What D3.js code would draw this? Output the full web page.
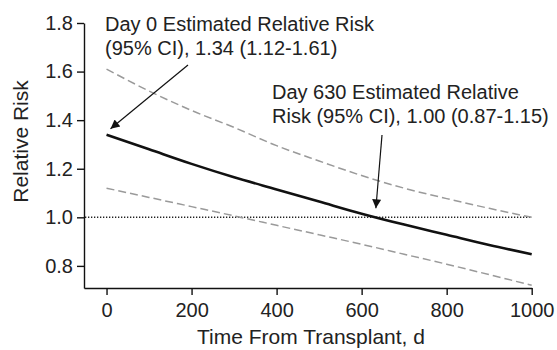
<!DOCTYPE html>
<html>
<head>
<meta charset="utf-8">
<script src="https://cdn.jsdelivr.net/npm/d3@7/dist/d3.min.js"></script>
<style>
	body { margin: 0; background: #fff; }
	svg { display: block; font-family: "Liberation Sans", Arial, Helvetica, sans-serif; }
</style>
</head>
<body>
<svg width="557" height="350"></svg>
<script>
// days after transplant
var days = [0, 100, 200, 300, 400, 500, 600, 700, 800, 900, 1000];
// estimated relative risk and 95% CI
var rrEstimate = [1.34, 1.28, 1.22, 1.165, 1.115, 1.065, 1.015, 0.97, 0.928, 0.886, 0.848];
var rrUpper = [1.61, 1.52, 1.44, 1.37, 1.295, 1.232, 1.172, 1.12, 1.077, 1.037, 1.0];
var rrLower = [1.12, 1.082, 1.044, 1.006, 0.967, 0.928, 0.889, 0.848, 0.807, 0.764, 0.72];

var xTicks = [0, 200, 400, 600, 800, 1000];
var yTicks = [0.8, 1.0, 1.2, 1.4, 1.6, 1.8];
var referenceRR = 1.0;

var noteDay0 = ["Day 0 Estimated Relative Risk", "(95% CI), 1.34 (1.12-1.61)"];
var noteDay630 = ["Day 630 Estimated Relative", "Risk (95% CI), 1.00 (0.87-1.15)"];
var noteTargets = [[0, 1.34], [630, 1.0]];

var svg = d3.select("svg");

var x = d3.scaleLinear().domain([-53, 1000]).range([84, 531.7]);
var y = d3.scaleLinear().domain([0.709, 1.8]).range([288, 23]);

// axes
var yAxis = svg.append("g")
	.attr("transform", "translate(84,0)")
	.call(d3.axisLeft(y).tickValues(yTicks).tickSize(7).tickSizeOuter(0).tickPadding(4)
		.tickFormat(d3.format(".1f")));

var xAxis = svg.append("g")
	.attr("transform", "translate(0,288)")
	.call(d3.axisBottom(x).tickValues(xTicks).tickSize(7).tickSizeOuter(0).tickPadding(8)
		.tickFormat(d3.format("d")));

[xAxis, yAxis].forEach(g => {
	g.selectAll("path, line").attr("stroke", "#111").attr("stroke-width", 1.4);
	g.selectAll("text").attr("font-size", 20).attr("fill", "#222")
		.attr("font-family", "Liberation Sans, Arial, sans-serif");
});

svg.append("text")
	.attr("x", 311)
	.attr("y", 344)
	.attr("text-anchor", "middle")
	.attr("font-size", 21)
	.attr("fill", "#222")
	.text("Time From Transplant, d");

svg.append("text")
	.attr("transform", "translate(28,141.5) rotate(-90)")
	.attr("text-anchor", "middle")
	.attr("font-size", 21)
	.attr("fill", "#222")
	.text("Relative Risk");

// reference line at RR = 1
svg.append("line")
	.attr("x1", x(-53) + 1)
	.attr("x2", x(1000))
	.attr("y1", y(referenceRR))
	.attr("y2", y(referenceRR))
	.attr("stroke", "#222")
	.attr("stroke-width", 1.5)
	.attr("stroke-dasharray", "1.3,1.7");

var line = d3.line()
	.x((d, i) => x(days[i]))
	.y(d => y(d))
	.curve(d3.curveMonotoneX);

[rrUpper, rrLower].forEach(series => {
	svg.append("path")
		.attr("d", line(series))
		.attr("fill", "none")
		.attr("stroke", "#9a9a9a")
		.attr("stroke-width", 1.5)
		.attr("stroke-dasharray", "8,4");
});

svg.append("path")
	.attr("d", line(rrEstimate))
	.attr("fill", "none")
	.attr("stroke", "#111")
	.attr("stroke-width", 2.6);

// annotations
svg.append("defs").append("marker")
	.attr("id", "arrow")
	.attr("viewBox", "0 0 10 10")
	.attr("refX", 10)
	.attr("refY", 5)
	.attr("markerUnits", "userSpaceOnUse")
	.attr("markerWidth", 13)
	.attr("markerHeight", 9)
	.attr("orient", "auto")
	.append("path")
	.attr("d", "M0,0L10,5L0,10Z")
	.attr("fill", "#111");

function note(lines, tx, ty, tail, tip) {
	var t = svg.append("text")
		.attr("font-size", 20)
		.attr("fill", "#222");
	lines.forEach((s, i) => {
		t.append("tspan").attr("x", tx).attr("y", ty + i * 24).text(s);
	});
	svg.append("line")
		.attr("x1", tail[0]).attr("y1", tail[1])
		.attr("x2", tip[0]).attr("y2", tip[1])
		.attr("stroke", "#111")
		.attr("stroke-width", 1.2)
		.attr("marker-end", "url(#arrow)");
}

note(noteDay0, 105, 31, [188, 65],
	[x(noteTargets[0][0]) + 4, y(noteTargets[0][1]) - 6]);
note(noteDay630, 272, 99, [382, 135],
	[x(noteTargets[1][0]) + 1.5, y(noteTargets[1][1]) - 9]);
</script>
</body>
</html>
